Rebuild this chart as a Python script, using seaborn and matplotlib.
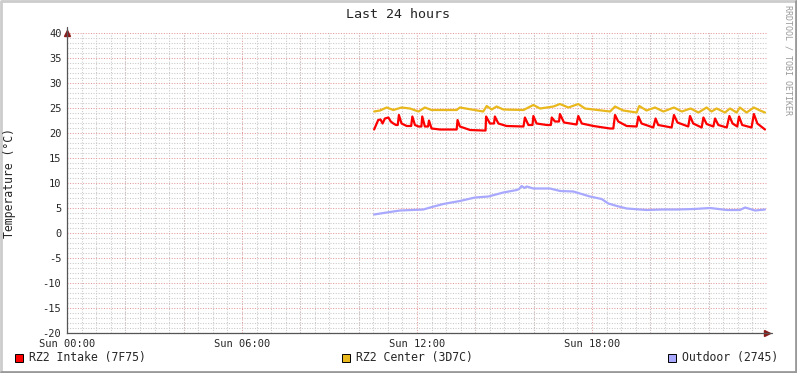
import numpy as np
import pandas as pd
import matplotlib
matplotlib.use("Agg")
import matplotlib.pyplot as plt
from matplotlib.patches import Rectangle
from matplotlib.lines import Line2D
from matplotlib.ticker import MultipleLocator
import seaborn as sns

sns.set_style("white")
plt.rcParams["font.family"] = ["DejaVu Sans Mono"]
plt.rcParams["axes.unicode_minus"] = False

# hours since Sun 00:00, temperatures in deg C
intake_t = [10.53, 10.67, 10.75, 10.82, 10.90, 11.02, 11.10, 11.19, 11.28, 11.34, 11.38, 11.47,
            11.65, 11.80, 11.84, 11.93, 12.05, 12.15, 12.18, 12.27, 12.38, 12.41, 12.50, 12.79,
            13.36, 13.39, 13.47, 13.82, 14.27, 14.35, 14.37, 14.50, 14.64, 14.67, 14.79, 15.07,
            15.65, 15.70, 15.82, 15.96, 15.99, 16.10, 16.45, 16.59, 16.62, 16.73, 16.87, 16.90,
            17.04, 17.47, 17.53, 17.65, 18.05, 18.62, 18.73, 18.79, 18.90, 19.19, 19.53, 19.59,
            19.70, 20.10, 20.18, 20.27, 20.73, 20.81, 20.93, 21.30, 21.36, 21.47, 21.76, 21.82,
            21.93, 22.16, 22.22, 22.33, 22.62, 22.71, 22.82, 22.98, 23.04, 23.15, 23.47, 23.55,
            23.67, 23.93]
intake_v = [20.7, 22.6, 22.7, 21.9, 22.9, 23.1, 22.3, 21.9, 21.6, 21.6, 23.6, 21.9,
            21.4, 21.4, 23.3, 21.6, 21.3, 21.3, 23.3, 21.3, 21.3, 22.5, 20.9, 20.7,
            20.7, 22.6, 21.3, 20.6, 20.5, 20.5, 23.3, 21.9, 21.9, 23.3, 21.9, 21.4,
            21.3, 23.1, 21.6, 21.6, 23.4, 21.9, 21.6, 21.6, 23.1, 22.3, 22.3, 23.8,
            22.1, 21.7, 23.4, 21.9, 21.4, 20.9, 20.9, 23.6, 22.3, 21.4, 21.3, 23.3,
            21.9, 21.1, 22.9, 21.6, 21.1, 23.6, 22.1, 21.3, 23.4, 21.9, 21.1, 23.1,
            21.8, 21.3, 22.9, 21.6, 21.1, 23.4, 21.9, 21.3, 23.3, 21.6, 21.1, 23.8,
            21.9, 20.7]

center_t = [10.53, 10.73, 10.96, 11.19, 11.47, 11.76, 12.05, 12.27, 12.50, 13.36, 13.47, 14.27,
            14.39, 14.56, 14.73, 14.96, 15.65, 15.99, 16.22, 16.68, 16.90, 17.19, 17.53, 17.76,
            18.62, 18.79, 19.07, 19.53, 19.62, 19.87, 20.16, 20.45, 20.81, 21.08, 21.38, 21.65,
            21.93, 22.10, 22.27, 22.56, 22.73, 22.96, 23.07, 23.30, 23.55, 23.76, 23.93]
center_v = [24.3, 24.5, 25.1, 24.6, 25.1, 24.9, 24.3, 25.1, 24.6, 24.6, 25.1, 24.3,
            25.4, 24.7, 25.3, 24.7, 24.6, 25.6, 24.9, 25.3, 25.8, 25.1, 25.8, 24.9,
            24.3, 25.3, 24.5, 24.1, 25.4, 24.5, 25.1, 24.3, 25.1, 24.3, 24.9, 24.1,
            25.1, 24.3, 24.9, 24.1, 24.9, 24.1, 25.1, 24.1, 25.1, 24.5, 24.1]

outdoor_t = [10.53, 10.96, 11.42, 12.22, 12.45, 12.90, 13.47, 13.99, 14.45, 14.96, 15.42, 15.50,
             15.59, 15.68, 15.76, 15.99, 16.56, 16.91, 17.36, 17.93, 18.33, 18.56, 18.85, 19.19,
             19.88, 20.40, 20.90, 21.50, 22.05, 22.62, 23.07, 23.25, 23.59, 23.93]
outdoor_v = [3.7, 4.1, 4.5, 4.7, 5.1, 5.8, 6.4, 7.1, 7.3, 8.1, 8.6, 8.8,
             9.4, 9.0, 9.3, 8.9, 8.9, 8.4, 8.3, 7.3, 6.8, 5.9, 5.4, 4.9,
             4.6, 4.7, 4.7, 4.8, 5.0, 4.6, 4.6, 5.1, 4.5, 4.7]

names = ["RZ2 Intake (7F75)", "RZ2 Center (3D7C)", "Outdoor (2745)"]
colors = ["#ff0000", "#e8b81c", "#a8a8ff"]
x_ticks = [0, 6, 12, 18]
x_labels = ["Sun 00:00", "Sun 06:00", "Sun 12:00", "Sun 18:00"]

df = pd.concat([
    pd.DataFrame({"t": intake_t, "v": intake_v, "s": names[0]}),
    pd.DataFrame({"t": center_t, "v": center_v, "s": names[1]}),
    pd.DataFrame({"t": outdoor_t, "v": outdoor_v, "s": names[2]}),
])

W, H = 797, 373
fig = plt.figure(figsize=(W / 100, H / 100), dpi=100)
fig.patch.set_facecolor("white")
ax = fig.add_axes([67 / W, 40 / H, 700 / W, 300 / H])

sns.lineplot(data=df, x="t", y="v", hue="s", palette=colors, hue_order=names,
             linewidth=1.6, legend=False, ax=ax, estimator=None, sort=False)

ax.set_xlim(0, 24)
ax.set_ylim(-20, 40)
ax.set_xticks(x_ticks)
ax.set_xticklabels(x_labels)
ax.set_yticks(range(-20, 41, 5))
ax.xaxis.set_minor_locator(MultipleLocator(0.5))
ax.yaxis.set_minor_locator(MultipleLocator(1))
ax.set_xlabel("")
ax.set_ylabel("")
ax.tick_params(axis="both", which="both", labelsize=7.5, length=2, width=0.8, color="#888888", pad=2)

# rrd style grid: grey minor, reddish major every 2 h / 5 deg
ax.grid(which="minor", color="#c8c8c8", linestyle=(0, (1, 1.5)), linewidth=0.75)
ax.grid(which="major", axis="y", color="#e49a9a", linestyle=(0, (1, 1.5)), linewidth=0.75)
for h in range(2, 24, 2):
    ax.axvline(h, color="#e49a9a", linestyle=(0, (1, 1.5)), linewidth=0.75, zorder=0.5)
ax.set_axisbelow(True)

for sp in ["top", "right"]:
    ax.spines[sp].set_visible(False)
for sp in ["left", "bottom"]:
    ax.spines[sp].set_color("#555555")
    ax.spines[sp].set_linewidth(0.9)
ax.plot(1.0, 0, marker=">", color="#8b1a1a", markersize=4, transform=ax.transAxes, clip_on=False)
ax.plot(0, 1.0, marker="^", color="#8b1a1a", markersize=4, transform=ax.transAxes, clip_on=False)
ax.plot([1.0, 1.007], [0, 0], color="#555555", lw=0.9, transform=ax.transAxes, clip_on=False)
ax.plot([0, 0], [1.0, 1.02], color="#555555", lw=0.9, transform=ax.transAxes, clip_on=False)

fig.text(10 / W, 1 - 183 / H, "Temperature (°C)", rotation=90, ha="center", va="center", fontsize=8.3)
fig.text(0.5, 1 - 14 / H, "Last 24 hours", ha="center", va="center", fontsize=9.6)
fig.text(788 / W, 1 - 5 / H, "RRDTOOL / TOBI OETIKER", rotation=-90, ha="center", va="top",
         fontsize=6.0, color="#999999")

# legend along the bottom
leg_y = 1 - 358 / H
leg_x = [15, 342, 668]
for x0, c, n in zip(leg_x, colors, names):
    fig.patches.append(Rectangle((x0 / W, leg_y - 4 / H), 8 / W, 8 / H, facecolor=c,
                                 edgecolor="black", linewidth=0.7, transform=fig.transFigure))
    fig.text((x0 + 14) / W, leg_y, n, ha="left", va="center", fontsize=8.3)

# frame
fig.add_artist(Line2D([0.0015, 0.0015, 0.9985], [0.003, 0.997, 0.997], color="#cccccc", lw=2,
                      transform=fig.transFigure))
fig.add_artist(Line2D([0.0015, 0.9985, 0.9985], [0.003, 0.003, 0.997], color="#999999", lw=2,
                      transform=fig.transFigure))

fig.savefig("out.png", dpi=100)
